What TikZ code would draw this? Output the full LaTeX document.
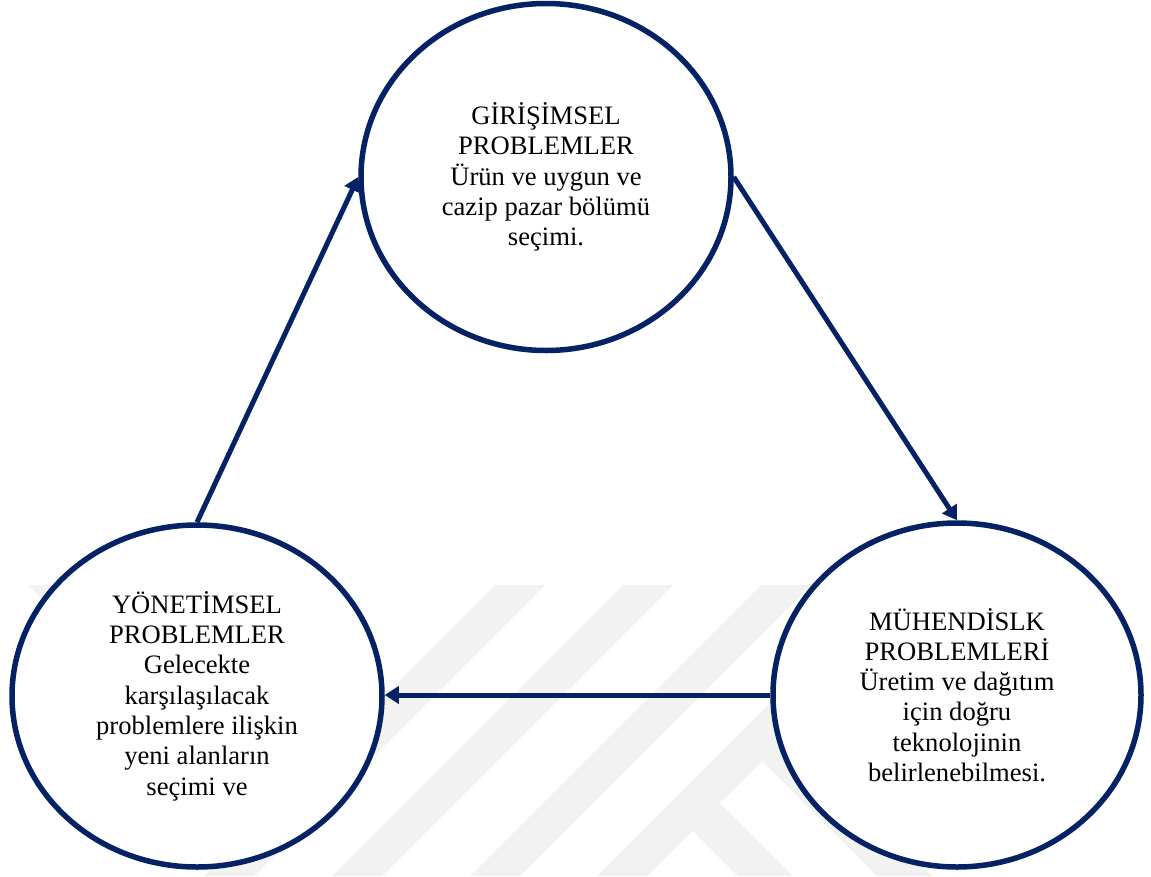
\documentclass[tikz,border=0pt]{standalone}
\usepackage{fontspec}
\setmainfont{Liberation Serif}
\usetikzlibrary{shapes.geometric,arrows.meta}
\definecolor{navy}{RGB}{4,34,100}
\definecolor{wm}{RGB}{242,242,242}
\begin{document}
\begin{tikzpicture}[x=1pt,y=-1pt,
  bubble/.style={ellipse, draw=navy, line width=5.5pt, fill=white, align=center,
    inner sep=0pt, font=\fontsize{26.6}{30.3}\selectfont},
  arr/.style={draw=navy, line width=5pt, -{Triangle[length=14pt,width=17pt]}},
  wmark/.style={fill=wm, draw=none}]
\path[use as bounding box, fill=white] (0,0) rectangle (1151,876);
% faint watermark
\fill[wmark] (495,585) -- (545,585) -- (254,876) -- (204,876) -- cycle;
\fill[wmark] (623,585) -- (673,585) -- (382,876) -- (332,876) -- cycle;
\fill[wmark] (761,585) -- (811,585) -- (520,876) -- (470,876) -- cycle;
\fill[wmark] (888,585) -- (938,585) -- (647,876) -- (597,876) -- cycle;
\fill[wmark] (720,803) -- (793,876) -- (738,876) -- (692,830) -- cycle;
\fill[wmark] (789.5,733.5) -- (932,876) -- (877,876) -- (762,761) -- cycle;
\fill[wmark] (28,585) -- (72,585) -- (140,653) -- (96,653) -- cycle;
% circles
\node[bubble, minimum width=370pt, minimum height=347pt] (top) at (546,177)
  {GİRİŞİMSEL\\PROBLEMLER\\Ürün ve uygun ve\\cazip pazar bölümü\\seçimi.};
\node[bubble, minimum width=370pt, minimum height=342pt] (bl) at (197,696)
  {YÖNETİMSEL\\PROBLEMLER\\Gelecekte\\karşılaşılacak\\problemlere ilişkin\\yeni alanların\\seçimi ve};
\node[bubble, minimum width=368pt, minimum height=344pt] (br) at (957,695)
  {MÜHENDİSLK\\PROBLEMLERİ\\Üretim ve dağıtım\\için doğru\\teknolojinin\\belirlenebilmesi.};
% connectors
\draw[arr] (bl.north) -- (top.west);
\draw[arr] (top.east) -- (br.north);
\draw[arr] (br.west) -- (br.west -| bl.east);
\end{tikzpicture}
\end{document}
